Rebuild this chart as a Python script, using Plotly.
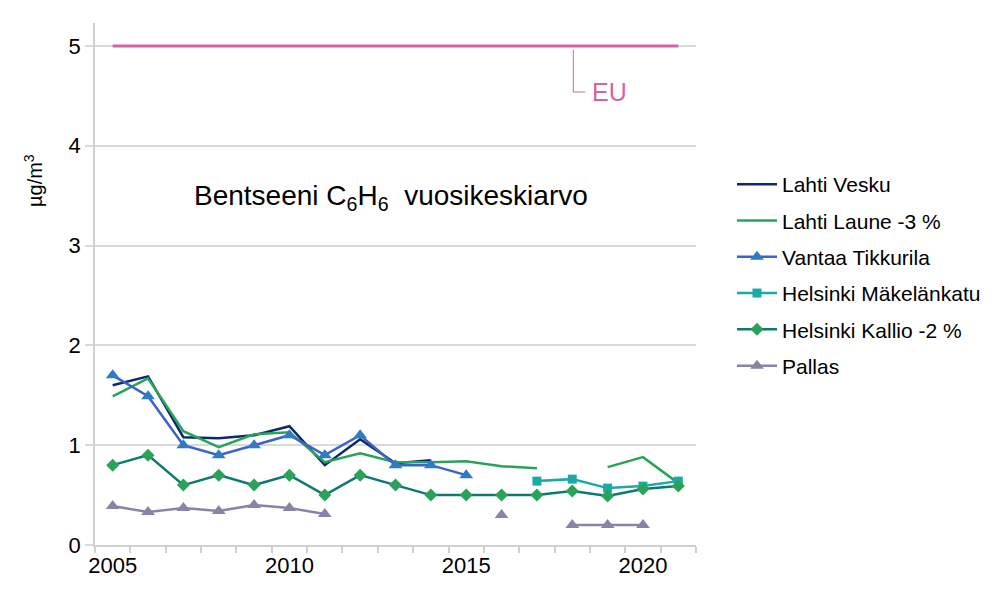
import plotly.graph_objects as go

years = list(range(2005, 2022))

lahti_vesku = [1.60, 1.69, 1.08, 1.07, 1.10, 1.19, 0.80, 1.06, 0.82, 0.85, None, None, None, None, None, None, None]
lahti_laune = [1.49, 1.67, 1.14, 0.98, 1.11, 1.13, 0.83, 0.92, 0.83, 0.83, 0.84, 0.79, 0.77, None, 0.78, 0.88, 0.62]
vantaa_tikkurila = [1.70, 1.49, 1.00, 0.90, 1.00, 1.10, 0.90, 1.10, 0.80, 0.80, 0.70, None, None, None, None, None, None]
helsinki_makelankatu = [None, None, None, None, None, None, None, None, None, None, None, None, 0.64, 0.66, 0.57, 0.59, 0.64]
helsinki_kallio = [0.80, 0.90, 0.60, 0.70, 0.60, 0.70, 0.50, 0.70, 0.60, 0.50, 0.50, 0.50, 0.50, 0.54, 0.49, 0.56, 0.59]
pallas = [0.39, 0.33, 0.37, 0.34, 0.40, 0.37, 0.31, None, None, None, None, 0.30, None, 0.20, 0.20, 0.20, None]
eu_limit = [5] * len(years)

x_labels = [2005, 2010, 2015, 2020]
y_ticks = [0, 1, 2, 3, 4, 5]

FONT = "Liberation Sans, Arial, sans-serif"

# page body has an 8px margin; plot area spans x 95..696, y 23..545 in the window
PL, PR, PT, PB = 95, 696, 23, 545
PW, PH = PR - PL, PB - PT


def px(xpix):
    return (xpix - PL) / PW


def py(ypix):
    return (PB - ypix) / PH


fig = go.Figure()

fig.add_trace(go.Scatter(x=years, y=eu_limit, mode="lines", name="EU",
                         line=dict(color="#d462a9", width=3), showlegend=False,
                         hoverinfo="skip"))

fig.add_trace(go.Scatter(x=years, y=lahti_vesku, mode="lines", name="Lahti Vesku",
                         line=dict(color="#0b2a6a", width=2.5), legendgroup="a"))
fig.add_trace(go.Scatter(x=years, y=lahti_laune, mode="lines", name="Lahti Laune -3 %",
                         line=dict(color="#2aa35a", width=2.5), legendgroup="b"))
fig.add_trace(go.Scatter(x=years, y=vantaa_tikkurila, mode="lines+markers", name="Vantaa Tikkurila",
                         line=dict(color="#3d62c8", width=2.5),
                         marker=dict(symbol="triangle-up", size=12, color="#2f7bc6"),
                         legendgroup="c"))
fig.add_trace(go.Scatter(x=years, y=helsinki_makelankatu, mode="lines+markers", name="Helsinki Mäkelänkatu",
                         line=dict(color="#1aaba9", width=2.5),
                         marker=dict(symbol="square", size=9, color="#1aaba9"),
                         legendgroup="d"))
fig.add_trace(go.Scatter(x=years, y=helsinki_kallio, mode="lines+markers", name="Helsinki Kallio -2 %",
                         line=dict(color="#0e7a6f", width=2.5),
                         marker=dict(symbol="diamond", size=10, color="#2aa35a"),
                         legendgroup="e"))
fig.add_trace(go.Scatter(x=years, y=pallas, mode="lines+markers", name="Pallas",
                         line=dict(color="#8a82a8", width=2.5),
                         marker=dict(symbol="triangle-up", size=12, color="#8a82a8"),
                         legendgroup="f"))

fig.update_layout(
    width=992, height=591,
    margin=dict(l=PL - 8, r=992 - (PR - 8), t=PT - 8, b=591 - (PB - 8)),
    paper_bgcolor="white", plot_bgcolor="white",
    font=dict(family=FONT, color="#000000", size=22),
    legend=dict(x=px(732), y=py(164), xanchor="left", yanchor="top",
                font=dict(size=21, family=FONT), tracegroupgap=6,
                itemwidth=40, bgcolor="rgba(0,0,0,0)"),
    xaxis=dict(range=[2004.5, 2021.5], tickvals=x_labels, ticktext=[str(v) for v in x_labels],
               showgrid=False, zeroline=False, showline=True, linecolor="#d0d0d0", linewidth=1.5,
               ticks="", tickfont=dict(size=22, family=FONT),
               minor=dict(tick0=2004.5, dtick=1, ticks="outside", ticklen=6,
                          tickcolor="#d0d0d0", tickwidth=1.5, showgrid=False)),
    yaxis=dict(range=[0, 5.23], tickvals=y_ticks, showgrid=True, gridcolor="#d9d9d9", gridwidth=1.5,
               zeroline=False, showline=True, linecolor="#d0d0d0", linewidth=1.5,
               ticks="outside", ticklen=8, tickcolor="#d9d9d9", tickwidth=1.5,
               tickfont=dict(size=22, family=FONT)),
)

# Chart title inside plot
fig.add_annotation(text="Bentseeni C<sub>6</sub>H<sub>6</sub>  vuosikeskiarvo",
                   xref="paper", yref="paper", x=px(391), y=py(197),
                   showarrow=False, font=dict(size=28, family=FONT, color="#000000"),
                   xanchor="center", yanchor="middle")

# Y axis title
fig.add_annotation(text="µg/m<sup>3</sup>", xref="paper", yref="paper",
                   x=px(33), y=py(181), showarrow=False, textangle=-90,
                   font=dict(size=20, family=FONT, color="#000000"),
                   xanchor="center", yanchor="middle")

# EU label with leader line
fig.add_shape(type="path", xref="x", yref="paper",
              path=f"M 2018.03,{py(50)} L 2018.03,{py(92)} L 2018.37,{py(92)}",
              line=dict(color="#d462a9", width=1))
fig.add_annotation(text="EU", xref="x", yref="paper", x=2018.5, y=py(92),
                   showarrow=False, xanchor="left", yanchor="middle",
                   font=dict(size=25, family=FONT, color="#d462a9"))

fig.write_html("out.html")
